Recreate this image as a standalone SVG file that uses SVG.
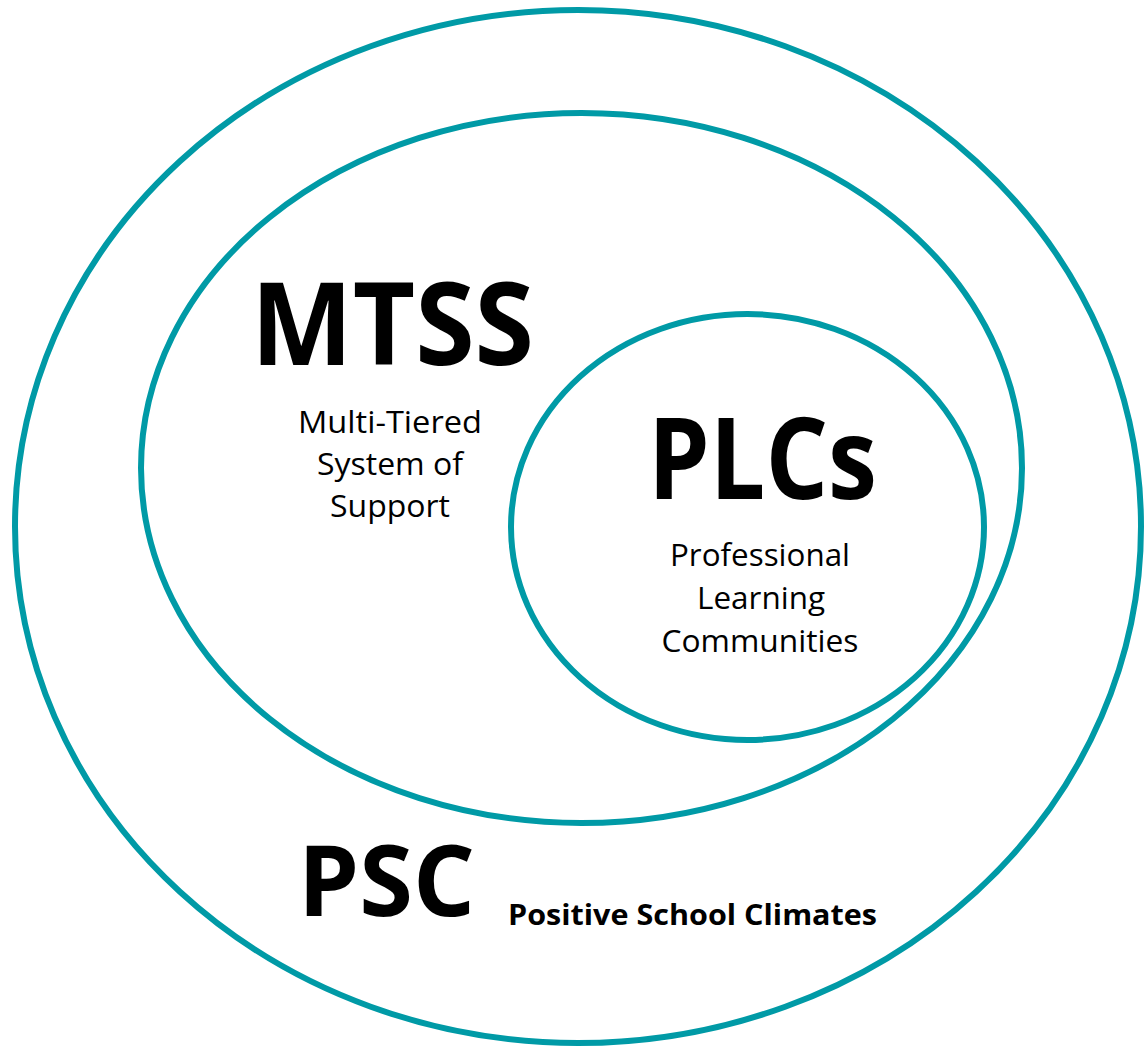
<svg xmlns="http://www.w3.org/2000/svg" width="1144" height="1049" viewBox="0 0 1144 1049">
<style>
.ring{fill:none;stroke:#009aa6;stroke-width:6}
.big{font-family:"Open Sans","Noto Sans","Liberation Sans",sans-serif;font-weight:700;fill:#000;text-anchor:middle}
.small{font-family:"Open Sans","Noto Sans","Liberation Sans",sans-serif;font-weight:400;fill:#000;text-anchor:middle;font-size:31px}
.sub{font-family:"Open Sans","Noto Sans","Liberation Sans",sans-serif;font-weight:700;fill:#000;font-size:29px}
</style>
<rect width="1144" height="1049" fill="#fff"/>
<g id="psc">
<ellipse class="ring" cx="578" cy="526.5" rx="563" ry="516.5"/>
<text class="big" x="386.5" y="916" font-size="98" textLength="177" lengthAdjust="spacingAndGlyphs">PSC</text>
<text class="sub" x="508" y="925" textLength="369" lengthAdjust="spacingAndGlyphs">Positive School Climates</text>
</g>
<g id="mtss">
<ellipse class="ring" cx="581.5" cy="468" rx="440.5" ry="355"/>
<text class="big" x="392.5" y="365" font-size="115" textLength="283" lengthAdjust="spacingAndGlyphs">MTSS</text>
<text class="small" x="390" y="433" textLength="184" lengthAdjust="spacingAndGlyphs">Multi-Tiered</text>
<text class="small" x="390" y="475" textLength="146" lengthAdjust="spacingAndGlyphs">System of</text>
<text class="small" x="390" y="517" textLength="120" lengthAdjust="spacingAndGlyphs">Support</text>
</g>
<g id="plcs">
<ellipse class="ring" cx="747.5" cy="527" rx="236.5" ry="213"/>
<text class="big" x="762.5" y="499" font-size="113" textLength="229" lengthAdjust="spacingAndGlyphs">PLCs</text>
<text class="small" x="760" y="566" textLength="180" lengthAdjust="spacingAndGlyphs">Professional</text>
<text class="small" x="761" y="609" textLength="128" lengthAdjust="spacingAndGlyphs">Learning</text>
<text class="small" x="760" y="652" textLength="197" lengthAdjust="spacingAndGlyphs">Communities</text>
</g>
<g id="connectors"></g>
</svg>
